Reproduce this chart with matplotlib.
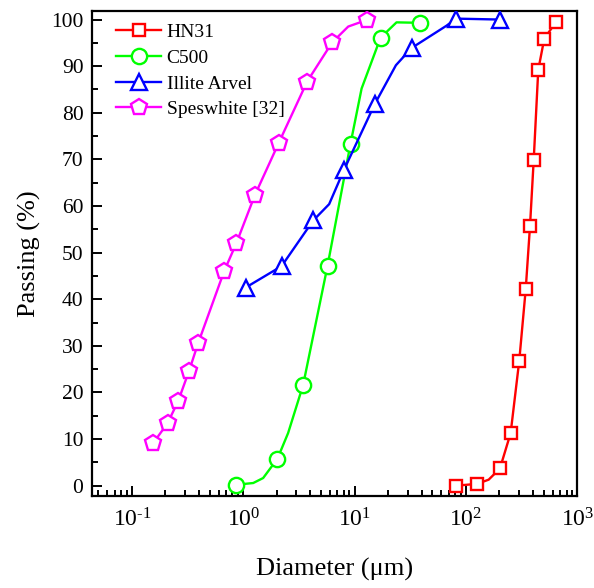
import matplotlib
matplotlib.use("Agg")
import matplotlib.pyplot as plt
from matplotlib.ticker import FixedLocator, FixedFormatter, LogLocator, MultipleLocator, NullFormatter

plt.rcParams['font.family'] = ['Liberation Serif', 'DejaVu Serif']
plt.rcParams['mathtext.fontset'] = 'custom'
plt.rcParams['mathtext.rm'] = 'Liberation Serif'
plt.rcParams['mathtext.it'] = 'Liberation Serif:italic'
plt.rcParams['mathtext.default'] = 'regular'

# ---- data ----
hn31_x = [80.8, 126, 160, 202, 252, 301, 344, 376, 406, 446, 505, 640]
hn31_y = [0.0, 0.4, 1.3, 3.7, 11.3, 26.8, 42.1, 55.7, 69.9, 89.2, 95.9, 99.4]
hn31_marks = [0, 1, 3, 4, 5, 6, 7, 8, 9, 10, 11]

c500_x = [0.858, 1.23, 1.51, 2.03, 2.53, 3.45, 5.72, 9.2, 11.56, 17.1, 23.8, 38.6]
c500_y = [0.2, 0.58, 1.65, 5.8, 11.3, 21.6, 47.2, 73.4, 85.2, 96.1, 99.4, 99.3]
c500_marks = [0, 3, 5, 6, 7, 9, 11]

illite_x = [1.05, 2.21, 4.25, 5.91, 8.01, 15.2, 23.5, 32.5, 67.1, 81.3, 202]
illite_y = [42.5, 47.1, 56.9, 60.4, 67.7, 81.9, 90.2, 93.9, 98.7, 100.2, 100.0]
illite_marks = [0, 1, 2, 4, 5, 7, 9, 10]

spes_x = [0.155, 0.209, 0.260, 0.327, 0.394, 0.676, 0.867, 1.27, 2.09, 3.75, 6.29, 8.77, 12.8]
spes_y = [9.1, 13.4, 18.1, 24.7, 30.6, 46.1, 52.0, 62.3, 73.6, 86.7, 95.1, 98.5, 99.9]
spes_marks = [0, 1, 2, 3, 4, 5, 6, 7, 8, 9, 10, 12]

series_labels = ['HN31', 'C500', 'Illite Arvel', 'Speswhite [32]']
x_tick_values = [0.1, 1, 10, 100, 1000]
x_tick_labels = ['$10^{\\text{-}1}$', '$10^{0}$', '$10^{1}$', '$10^{2}$', '$10^{3}$']
y_tick_values = [0, 10, 20, 30, 40, 50, 60, 70, 80, 90, 100]

fig = plt.figure(figsize=(5.94, 5.88), dpi=100)
ax = fig.add_axes([0.1544, 0.1565, 0.8175, 0.8253])

lw = 1.7
mew = 1.7
ax.plot(hn31_x, hn31_y, color='#ff0000', lw=lw, marker='s', ms=8.8, mfc='white',
        mec='#ff0000', mew=mew, markevery=hn31_marks, label=series_labels[0], zorder=3)
ax.plot(c500_x, c500_y, color='#00ff00', lw=lw, marker='o', ms=11, mfc='white',
        mec='#00ff00', mew=mew, markevery=c500_marks, label=series_labels[1], zorder=3)
ax.plot(illite_x, illite_y, color='#0000ff', lw=lw, marker='^', ms=12.2, mfc='white',
        mec='#0000ff', mew=mew, markevery=illite_marks, label=series_labels[2], zorder=3)
ax.plot(spes_x, spes_y, color='#ff00ff', lw=lw, marker='p', ms=12.2, mfc='white',
        mec='#ff00ff', mew=mew, markevery=spes_marks, label=series_labels[3], zorder=3)

ax.set_xscale('log')
ax.set_xlim(0.0436, 1000)
ax.set_ylim(-2.2, 101.9)

ax.xaxis.set_major_locator(FixedLocator(x_tick_values))
ax.xaxis.set_major_formatter(FixedFormatter(x_tick_labels))
ax.xaxis.set_minor_locator(LogLocator(base=10, subs=range(2, 10), numticks=20))
ax.xaxis.set_minor_formatter(NullFormatter())
ax.yaxis.set_major_locator(FixedLocator(y_tick_values))
ax.yaxis.set_minor_locator(MultipleLocator(5))

ax.tick_params(which='both', direction='in', top=False, right=False, width=1.4)
ax.tick_params(which='major', length=7)
ax.tick_params(which='minor', length=4)
ax.tick_params(axis='x', pad=9, labelsize=17)
ax.tick_params(axis='y', pad=6, labelsize=15.5)
for s in ax.spines.values():
    s.set_linewidth(1.6)

ax.set_xlabel('Diameter (\u03bcm)', fontsize=19, labelpad=19)
ax.set_ylabel('Passing (%)', fontsize=19, labelpad=7)

ax.legend(loc='upper left', bbox_to_anchor=(0.015, 1.010), frameon=False, fontsize=14,
          handlelength=2.3, handletextpad=0.28, labelspacing=0.42, borderpad=0.4,
          numpoints=1)

fig.savefig('out.png', dpi=100)
